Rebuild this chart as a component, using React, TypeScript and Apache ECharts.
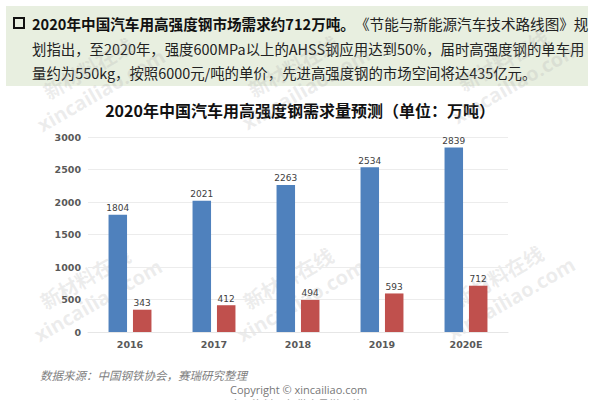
import React, { useEffect, useRef } from "react";
import * as echarts from "echarts";

const categories = ["2016", "2017", "2018", "2019", "2020E"];
const seriesA = [1804, 2021, 2263, 2534, 2839];
const seriesB = [343, 412, 494, 593, 712];
const yTicks = { min: 0, max: 3000, interval: 500 };

const title = "2020年中国汽车用高强度钢需求量预测（单位：万吨）";
const line1Bold = "2020年中国汽车用高强度钢市场需求约712万吨。";
const line1Normal = "《节能与新能源汽车技术路线图》规";
const line2 = "划指出，至2020年，强度600MPa以上的AHSS钢应用达到50%，届时高强度钢的单车用";
const line3 = "量约为550kg，按照6000元/吨的单价，先进高强度钢的市场空间将达435亿元。";
const sourceText = "数据来源：中国钢铁协会，赛瑞研究整理";
const copyright1 = "Copyright © xincailiao.com";
const copyright2 = "本网资料，仅供会员学习使用";
const wmCn = "新材料在线";
const wmEn = "xincailiao.com";

const CJK = '"Noto Sans CJK SC", "Noto Sans", sans-serif';

function watermark(cx: number, cy: number) {
  const rot = (30 * Math.PI) / 180;
  return {
    type: "group",
    x: cx,
    y: cy,
    rotation: rot,
    z: 100,
    silent: true,
    children: [
      {
        type: "text",
        x: 0,
        y: -14,
        style: {
          text: wmCn,
          font: `bold 20px ${CJK}`,
          fill: "rgba(170,170,170,0.22)",
          align: "center",
          verticalAlign: "middle",
        },
      },
      {
        type: "text",
        x: 0,
        y: 12,
        style: {
          text: wmEn,
          font: `bold 20px "Open Sans", sans-serif`,
          fill: "rgba(170,170,170,0.22)",
          align: "center",
          verticalAlign: "middle",
        },
      },
    ],
  };
}

export default function App() {
  const ref = useRef<HTMLDivElement>(null);
  useEffect(() => {
    document.body.style.margin = "0";
    const chart = echarts.init(ref.current!, undefined, { renderer: "svg" });
    const option: any = {
      animation: false,
      backgroundColor: "#ffffff",
      grid: { left: 88, right: 92, top: 137, bottom: 68 },
      xAxis: {
        type: "category",
        data: categories,
        axisLine: { show: true, lineStyle: { color: "#e6e6e6" } },
        axisTick: { show: false },
        axisLabel: {
          color: "#595959",
          fontWeight: "bold",
          fontSize: 9.5,
          fontFamily: '"DejaVu Sans", sans-serif',
          margin: 7,
        },
      },
      yAxis: {
        type: "value",
        min: yTicks.min,
        max: yTicks.max,
        interval: yTicks.interval,
        axisLine: { show: false },
        axisTick: { show: false },
        splitLine: { lineStyle: { color: "#ececec" } },
        axisLabel: {
          color: "#595959",
          fontWeight: "bold",
          fontSize: 9.5,
          fontFamily: '"DejaVu Sans", sans-serif',
          margin: 7,
          formatter: (v: number) => String(v),
        },
      },
      series: [
        {
          type: "bar",
          data: seriesA,
          barWidth: 18.5,
          barGap: "32%",
          itemStyle: { color: "#4F81BD" },
          label: {
            show: true,
            position: "top",
            distance: 2,
            color: "#404040",
            fontSize: 9,
            fontFamily: '"DejaVu Sans", sans-serif',
          },
        },
        {
          type: "bar",
          data: seriesB,
          barWidth: 18.5,
          itemStyle: { color: "#C0504D" },
          label: {
            show: true,
            position: "top",
            distance: 2,
            color: "#404040",
            fontSize: 9,
            fontFamily: '"DejaVu Sans", sans-serif',
          },
        },
      ],
      graphic: [
        {
          type: "rect",
          z: -10,
          shape: { x: 6, y: 6, width: 582, height: 80 },
          style: { fill: "#E8EFE0" },
        },
        {
          type: "rect",
          shape: { x: 14, y: 18, width: 10, height: 10 },
          style: { fill: "none", stroke: "#111", lineWidth: 2 },
        },
        {
          type: "text",
          x: 32,
          y: 23,
          style: {
            text: `{b|${line1Bold}}{n|${line1Normal}}`,
            verticalAlign: "middle",
            rich: {
              b: { font: `bold 14.6px ${CJK}`, fill: "#111" },
              n: { font: `14.6px ${CJK}`, fill: "#222" },
            },
          },
        },
        {
          type: "text",
          x: 32,
          y: 48,
          style: { text: line2, font: `14.4px ${CJK}`, fill: "#222", verticalAlign: "middle" },
        },
        {
          type: "text",
          x: 32,
          y: 72,
          style: { text: line3, font: `14.4px ${CJK}`, fill: "#222", verticalAlign: "middle" },
        },
        {
          type: "text",
          x: 300,
          y: 110,
          style: {
            text: title,
            font: `bold 16px ${CJK}`,
            fill: "#111",
            align: "center",
            verticalAlign: "middle",
          },
        },
        {
          type: "text",
          x: 40,
          y: 375,
          style: {
            text: sourceText,
            font: `italic 11.5px ${CJK}`,
            fill: "#7f7f7f",
            verticalAlign: "middle",
          },
        },
        {
          type: "text",
          x: 230,
          y: 389,
          style: {
            text: copyright1,
            font: `11px "Open Sans", sans-serif`,
            fill: "#777",
            verticalAlign: "middle",
          },
        },
        {
          type: "text",
          x: 230,
          y: 404,
          style: {
            text: copyright2,
            font: `11px ${CJK}`,
            fill: "#999",
            verticalAlign: "middle",
          },
        },
        watermark(92, 290),
        watermark(295, 290),
        watermark(505, 288),
        watermark(95, 80),
        watermark(300, 78),
        watermark(510, 72),
      ],
    };
    chart.setOption(option);
    return () => chart.dispose();
  }, []);
  return (
    <div
      ref={ref}
      style={{ position: "absolute", left: 0, top: 0, width: 600, height: 400 }}
    />
  );
}
